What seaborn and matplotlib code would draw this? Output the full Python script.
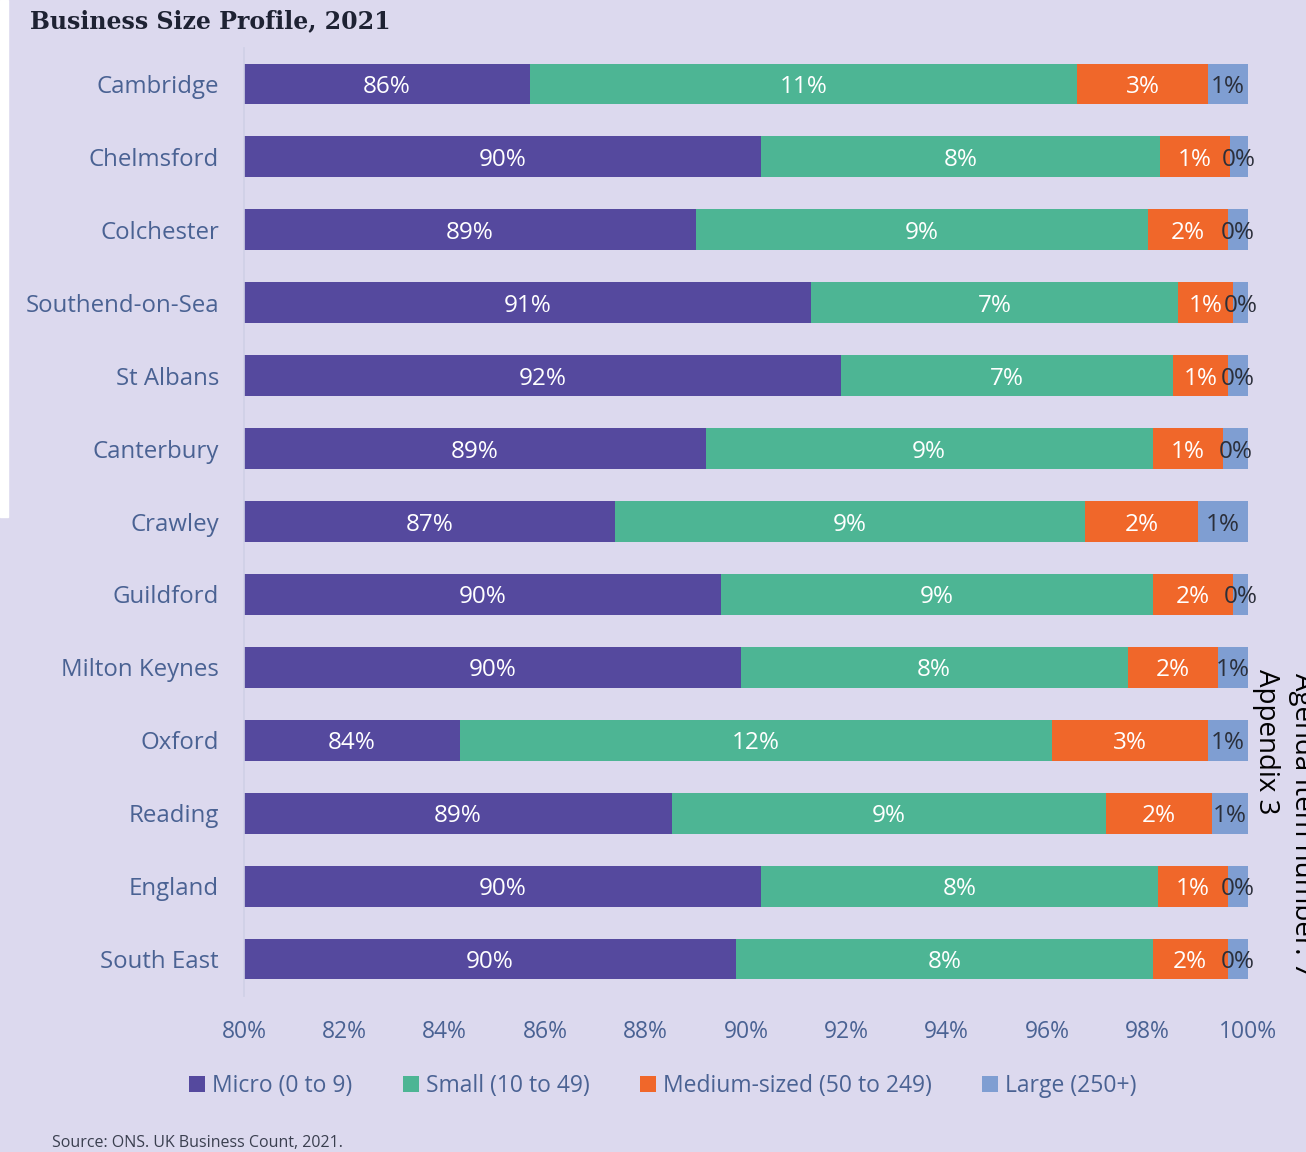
import numpy as np
import pandas as pd
import seaborn as sns
import matplotlib.pyplot as plt
from matplotlib.patches import Patch, Rectangle

# data (share of businesses, %)
places = ["Cambridge", "Chelmsford", "Colchester", "Southend-on-Sea", "St Albans",
          "Canterbury", "Crawley", "Guildford", "Milton Keynes", "Oxford",
          "Reading", "England", "South East"]
micro = [85.7, 90.3, 89.0, 91.3, 91.9, 89.2, 87.4, 89.5, 89.9, 84.3, 88.52, 90.3, 89.8]
small = [10.9, 7.95, 9.0, 7.3, 6.6, 8.9, 9.35, 8.6, 7.7, 11.8, 8.66, 7.9, 8.3]
medium = [2.6, 1.4, 1.6, 1.1, 1.1, 1.4, 2.25, 1.6, 1.8, 3.1, 2.1, 1.4, 1.5]
large = [0.8, 0.35, 0.4, 0.3, 0.4, 0.5, 1.0, 0.3, 0.6, 0.8, 0.72, 0.4, 0.4]
xticks = [80, 82, 84, 86, 88, 90, 92, 94, 96, 98, 100]

names = ["Micro (0 to 9)", "Small (10 to 49)", "Medium-sized (50 to 249)", "Large (250+)"]
colors = ["#55499e", "#4db594", "#f0672a", "#7f9ed2"]
bg = "#dcd9ee"
lab_col = "#4a6293"

df = pd.DataFrame({"place": places, "micro": micro, "small": small,
                   "medium": medium, "large": large})
parts = ["micro", "small", "medium", "large"]
cum = df[parts].cumsum(axis=1)

sns.set_theme(style="white")
plt.rcParams['font.family'] = ['Open Sans', 'DejaVu Sans']

fig = plt.figure(figsize=(13.06, 11.52), dpi=100, facecolor=bg)
fig.patches.append(Rectangle((0, 1 - 517 / 1152), 8 / 1306, 517 / 1152,
                             transform=fig.transFigure, color="white", zorder=0))
ax = fig.add_axes([244 / 1306, 1 - 995.5 / 1152, 1004 / 1306, 948 / 1152])
ax.set_facecolor(bg)

# stacked bars: draw cumulative totals from the largest down
for i in range(3, -1, -1):
    sns.barplot(x=cum[parts[i]], y=df["place"], color=colors[i], orient="h",
                width=0.56, ax=ax, linewidth=0, saturation=1)

ax.set_xlim(80, 100)
ax.set_ylim(12.5, -0.5)
ax.set_xticks(xticks)
ax.set_xticklabels([f"{t}%" for t in xticks])
ax.tick_params(axis="x", labelsize=16.5, colors=lab_col, length=0, pad=18)
ax.tick_params(axis="y", labelsize=17.3, colors=lab_col, length=0, pad=18)
ax.set_xlabel("")
ax.set_ylabel("")
for s in ["top", "right", "bottom"]:
    ax.spines[s].set_visible(False)
ax.spines["left"].set_color("#cfd0e6")
ax.spines["left"].set_linewidth(1.2)

# value labels
for r in range(len(places)):
    left = 80
    for i, p in enumerate(parts):
        right = cum.loc[r, p]
        val = df.loc[r, p]
        c = "white" if i < 3 else "#2b2f3a"
        ax.text((max(left, 80) + right) / 2, r, f"{round(val)}%", ha="center",
                va="center_baseline", fontsize=17.5, color=c)
        left = right

handles = [Patch(facecolor=c, edgecolor="none") for c in colors]
leg = fig.legend(handles, names, loc="center", bbox_to_anchor=(663 / 1306, 1 - 1086 / 1152),
                 ncol=4, frameon=False, fontsize=16.5, handlelength=0.7, handleheight=0.7,
                 handletextpad=0.3, columnspacing=2.2)
for t in leg.get_texts():
    t.set_color(lab_col)

fig.text(30 / 1306, 1 - 21 / 1152, "Business Size Profile, 2021", fontsize=17,
         fontweight="bold", family="DejaVu Serif", color="#1e2233", va="center")
fig.text(52 / 1306, 1 - 1143 / 1152, "Source: ONS. UK Business Count, 2021.",
         fontsize=11.5, color="#3a3f4f", va="center")
fig.text(1266 / 1306, 1 - 742 / 1152, "Appendix 3", rotation=270, fontsize=20,
         color="black", ha="center", va="center")
fig.text(1302 / 1306, 1 - 825 / 1152, "Agenda Item number: 7", rotation=270,
         fontsize=20, color="black", ha="center", va="center")

fig.savefig("out.png", dpi=100, facecolor=bg)
